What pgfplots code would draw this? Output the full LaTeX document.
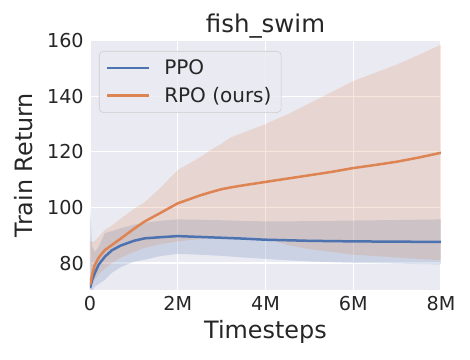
\documentclass[border=0pt]{standalone}
\usepackage{fontspec}
\setmainfont{DejaVu Sans}
\usepackage{pgfplots}
\pgfplotsset{compat=1.18}
\usepgfplotslibrary{fillbetween}
\definecolor{sbBlue}{HTML}{4C72B0}
\definecolor{sbOrange}{HTML}{DD8452}
\definecolor{sbBg}{HTML}{EAEAF2}
\definecolor{sbInk}{HTML}{262626}
\definecolor{sbEdge}{HTML}{CCCCCC}

% PPO: mean and band
\pgfplotstableread{
x     m     lo    hi
0     71    70    100
0.05  74    70.2  86
0.11  76.4  71.5  84
0.2   79.5  72.5  86
0.34  82.3  74    90.8
0.5   84.6  76.5  91.5
0.7   86.3  78.5  92.5
1.0   88.0  80.5  93.8
1.25  88.9  81.2  94.5
1.6   89.3  82.5  95.2
2.0   89.7  83.3  95.7
2.5   89.4  83.0  95.6
3.0   89.1  82.6  95.4
3.5   88.8  82.0  95.2
4.0   88.4  81.5  95.0
4.5   88.2  81.0  95.0
5.0   88.0  80.6  95.1
5.5   87.9  80.3  95.2
6.0   87.8  80.1  95.3
7.0   87.7  79.8  95.5
8.0   87.6  79.5  95.7
}\ppo

% RPO (ours): mean and band
\pgfplotstableread{
x     m     lo    hi
0     72    70    88
0.05  76    72    87.5
0.11  79.3  74    88
0.2   82    76    89.5
0.34  84.7  78    92
0.5   86.5  80    93.5
0.7   88.8  82    96
1.0   92.3  84    99.5
1.25  95.0  85.5  102
1.6   98.0  86.8  107
2.0   101.5 87.8  113.5
2.5   104.3 88.6  118
2.75  105.5 89.0  120.7
3.0   106.6 89.2  123
3.2   107.2 89.3  125.2
3.5   108.0 89.3  127
4.0   109.2 89.0  130
4.2   109.7 88.0  131.5
4.5   110.4 86.5  133.5
5.0   111.6 85.0  137.5
5.5   112.8 84.0  141.5
6.0   114.2 83.0  145.5
6.5   115.3 82.5  148.5
7.0   116.5 82.0  151.5
7.5   118.0 81.5  155
8.0   119.7 81.0  158.6
}\rpo

\begin{document}
\begin{tikzpicture}
\begin{axis}[
    scale only axis,
    width=252.7pt, height=180pt,
    at={(0,0)}, anchor=south west,
    xmin=0, xmax=8, ymin=70.3, ymax=160.3,
    axis background/.style={fill=sbBg},
    xtick={0,2,4,6,8},
    xticklabels={0,2M,4M,6M,8M},
    ytick={80,100,120,140,160},
    major tick length=0pt,
    grid=major,
    grid style={white, line width=0.8pt},
    ticklabel style={font=\fontsize{13.8}{15}\selectfont, text=sbInk},
    /pgf/number format/assume math mode=true,
    xticklabel style={yshift=-1pt},
    yticklabel style={xshift=-1pt},
    axis line style={draw=none},
    title={fish\_swim},
    every axis title/.style={at={(axis description cs:0.5,1.028)}, anchor=base,
        font=\fontsize{17.6}{19}\selectfont, text=sbInk},
    xlabel={Timesteps},
    every axis x label/.style={at={(axis description cs:0.5,-0.196)}, anchor=base,
        font=\fontsize{17.2}{19}\selectfont, text=sbInk},
    ylabel={Train Return},
    every axis y label/.style={at={(axis description cs:-0.165,0.5)}, anchor=base,
        rotate=90, font=\fontsize{17.2}{19}\selectfont, text=sbInk},
    legend style={at={(axis description cs:0.0256,0.956)}, anchor=north west,
        draw=sbEdge, fill=sbBg, fill opacity=0.8, text opacity=1,
        rounded corners=3pt, font=\fontsize{14.4}{16}\selectfont,
        text=sbInk, inner xsep=5pt, inner ysep=4pt,
        row sep=3.5pt, column sep=8pt},
    legend cell align=left,
    legend image code/.code={\draw[#1, line width=1.8pt] (0pt,0pt) -- (30pt,0pt);},
    clip mode=individual,
]
  \addplot[name path=ppoHi, draw=none, forget plot] table[x=x, y=hi] {\ppo};
  \addplot[name path=ppoLo, draw=none, forget plot] table[x=x, y=lo] {\ppo};
  \addplot[sbBlue, fill opacity=0.2, forget plot] fill between[of=ppoHi and ppoLo];
  \addplot[sbBlue, line width=1.8pt] table[x=x, y=m] {\ppo};
  \addlegendentry{PPO}

  \addplot[name path=rpoHi, draw=none, forget plot] table[x=x, y=hi] {\rpo};
  \addplot[name path=rpoLo, draw=none, forget plot] table[x=x, y=lo] {\rpo};
  \addplot[sbOrange, fill opacity=0.2, forget plot] fill between[of=rpoHi and rpoLo];
  \addplot[sbOrange, line width=1.8pt] table[x=x, y=m] {\rpo};
  \addlegendentry{RPO (ours)}
\end{axis}
\pgfresetboundingbox
\path (-64.8pt,-50.4pt) rectangle (273.6pt,208.8pt);
\end{tikzpicture}
\end{document}
